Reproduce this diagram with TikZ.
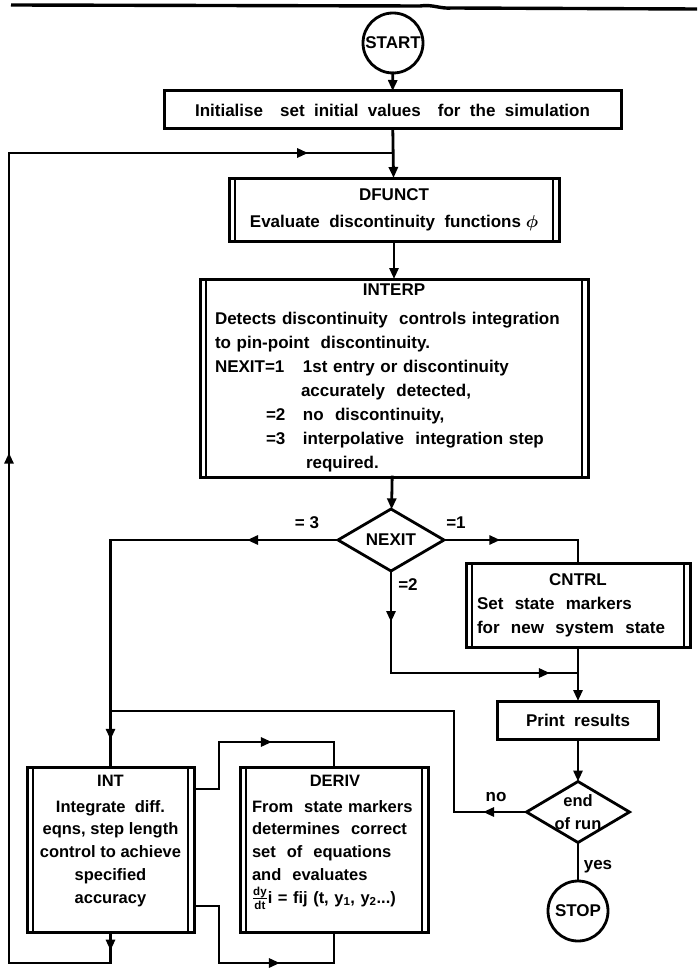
\documentclass[tikz,border=0pt]{standalone}
\usepackage{fontspec}
\usepackage{amsmath}
\setmainfont{Liberation Sans}
\usetikzlibrary{arrows.meta,positioning,calc,shapes.geometric,decorations.markings}
\newcommand\flowfont{\fontsize{17}{24}\selectfont\bfseries}
\newcommand\lowfont{\fontsize{16.5}{22.7}\selectfont\bfseries}
\tikzset{
  plainbox/.style={draw,line width=3pt,outer sep=0pt,inner sep=0pt,align=center,font=\flowfont},
  procbox/.style={plainbox},
  inbar/.style={line width=1.6pt},
  term/.style={draw,circle,line width=2.8pt,outer sep=0pt,inner sep=0pt,minimum size=60pt,font=\flowfont},
  test/.style={draw,diamond,aspect=1.7,line width=2.8pt,outer sep=0pt,inner sep=0pt,font=\flowfont},
  boxtext/.style={inner sep=0pt,font=\lowfont},
  lbl/.style={inner sep=0pt,font=\flowfont},
  flow/.style={line width=2.8pt,line cap=rect},
  arr/.style={flow,-{Triangle[length=11pt,width=9pt]}},
  arrat/.style={flow,postaction={decorate},decoration={markings,mark=at position #1 with {\arrow{Triangle[length=11pt,width=9pt]}}}}
}
\begin{document}
\begin{tikzpicture}[x=1pt,y=-1pt]
\useasboundingbox (0,0) rectangle (697,971);
% page rule
\draw[line width=3.4pt] (11,5) -- (420,6) .. controls (432,4) and (440,9) .. (452,8) -- (697,9);

% blocks
\node[term] (start) at (393,43) {START};
\node[plainbox,minimum width=457pt,minimum height=38pt] (init) at (392.5,110) {Initialise\quad set\ \ initial\ \ values\quad for\ \ the\ \ simulation};
\node[procbox,minimum width=330pt,minimum height=63pt] (dfunct) at (394,209.5) {DFUNCT\\[3pt]Evaluate\ \ discontinuity\ \ functions $\boldsymbol{\phi}$};
\node[procbox,minimum width=388pt,minimum height=198pt,text width=358pt,align=left] (interp) at (394,378) {%
  \makebox[\hsize]{INTERP}\\[5pt]
  Detects discontinuity\ \ controls integration\\
  to pin-point\ \ discontinuity.\\
  \makebox[88pt][l]{NEXIT=1}1st entry or discontinuity\\
  \hspace*{86pt}accurately\ \ detected,\\
  \hspace*{51pt}\makebox[37pt][l]{=2}no\ \ discontinuity,\\
  \hspace*{51pt}\makebox[37pt][l]{=3}interpolative\ \ integration step\\
  \hspace*{91pt}required.};
\node[test,minimum width=106pt,minimum height=62pt] (nexit) at (391,540) {NEXIT};
\node[procbox,minimum width=224pt,minimum height=84pt,text width=202pt,align=left] (cntrl) at (578,605) {\makebox[\hsize]{CNTRL}\\Set\ \ state\ \ markers\\for\ \ new\ \ system\ \ state};
\node[plainbox,minimum width=161pt,minimum height=38pt] (print) at (578,720) {Print\ \ results};
\node[test,minimum width=103pt,minimum height=61pt,label={[lbl,font=\lowfont,align=center]center:end\\of run}] (endrun) at (578,812) {};
\node[term] (stop) at (578,911) {STOP};
\node[procbox,minimum width=167pt,minimum height=165pt] (int) at (110.5,849.5) {};
\node[procbox,minimum width=188pt,minimum height=165pt] (deriv) at (334,849.5) {};
\node[boxtext,align=center,below=8pt of int.north] (inttext) {INT\\[3pt]Integrate\ \ diff.\\eqns, step length\\control to achieve\\specified\\accuracy};
\node[boxtext,align=left,text width=166pt,below=8pt of deriv.north,xshift=1pt] (derivtext) {\makebox[\hsize]{DERIV}\\[3pt]From\ \ state markers\\determines\ \ correct\\set\ \ of\ \ equations\\and\ \ evaluates\\\(\frac{\text{dy}}{\text{dt}}\)i = fij (t, y\textsubscript{1}, y\textsubscript{2}...)};

% side bars of the process boxes
\foreach \n in {dfunct,interp,cntrl,int,deriv} {
  \draw[inbar] ([xshift=6pt]\n.north west) -- ([xshift=6pt]\n.south west);
  \draw[inbar] ([xshift=-6pt]\n.north east) -- ([xshift=-6pt]\n.south east);
}

% main line
\draw[arr] (start) -- (init);
\draw[arr] (init) -- (dfunct);
\draw[arr] (dfunct) -- (interp);
\draw[arr] (interp) -- (nexit);

% NEXIT = 3
\coordinate (leftturn) at (int.north |- nexit.west);
\draw[arrat=0.4] (nexit.west) -- (leftturn);
\draw[arrat=0.88] (leftturn) -- (int.north);
\node[lbl] (eq3) at (307,523) {= 3};
% NEXIT = 1
\coordinate (rightturn) at (cntrl.north |- nexit.east);
\draw[arrat=0.42] (nexit.east) -- (rightturn);
\draw[flow] (rightturn) -- (cntrl.north);
\node[lbl] (eq1) at (456,523) {=1};
% NEXIT = 2
\coordinate (downturn) at (nexit.south |- 0,673);
\coordinate (merge) at (cntrl.south |- downturn);
\draw[arrat=0.5] (nexit.south) -- (downturn);
\draw[arrat=0.85] (downturn) -- (merge);
\node[lbl] (eq2) at (408,585) {=2};
\draw[arr] (cntrl) -- (print);
\draw[arr] (print) -- (endrun);

% end of run
\coordinate (nocorner) at (454,812);
\coordinate (noup) at (454,711);
\draw[arrat=0.6] (endrun.west) -- (nocorner);
\draw[flow] (nocorner) -- (noup) -- (int.north |- noup);
\node[lbl] (nolbl) at (496,797) {no};
\draw[flow] (endrun) -- (stop);
\node[lbl] (yeslbl) at (598,867) {yes};

% INT to DERIV
\coordinate (up1) at (219,789);
\coordinate (up2) at (219,742);
\draw[flow] (int.east |- up1) -- (up1) -- (up2);
\draw[arrat=0.46] (up2) -- (deriv.north |- up2);
\draw[flow] (deriv.north |- up2) -- (deriv.north);
\coordinate (dn1) at (219,906);
\coordinate (dn2) at (219,963);
\draw[flow] (int.east |- dn1) -- (dn1) -- (dn2);
\draw[arrat=0.53] (dn2) -- (deriv.south |- dn2);
\draw[flow] (deriv.south |- dn2) -- (deriv.south);

% loop back
\coordinate (loopbl) at (9,963);
\coordinate (looptl) at (9,153);
\coordinate (loopjoin) at (init.south |- looptl);
\draw[arrat=0.6] (int.south) -- (int.south |- loopbl);
\draw[flow] (int.south |- loopbl) -- (loopbl);
\draw[arrat=0.63] (loopbl) -- (looptl);
\draw[arrat=0.78] (looptl) -- (loopjoin);
\end{tikzpicture}
\end{document}
